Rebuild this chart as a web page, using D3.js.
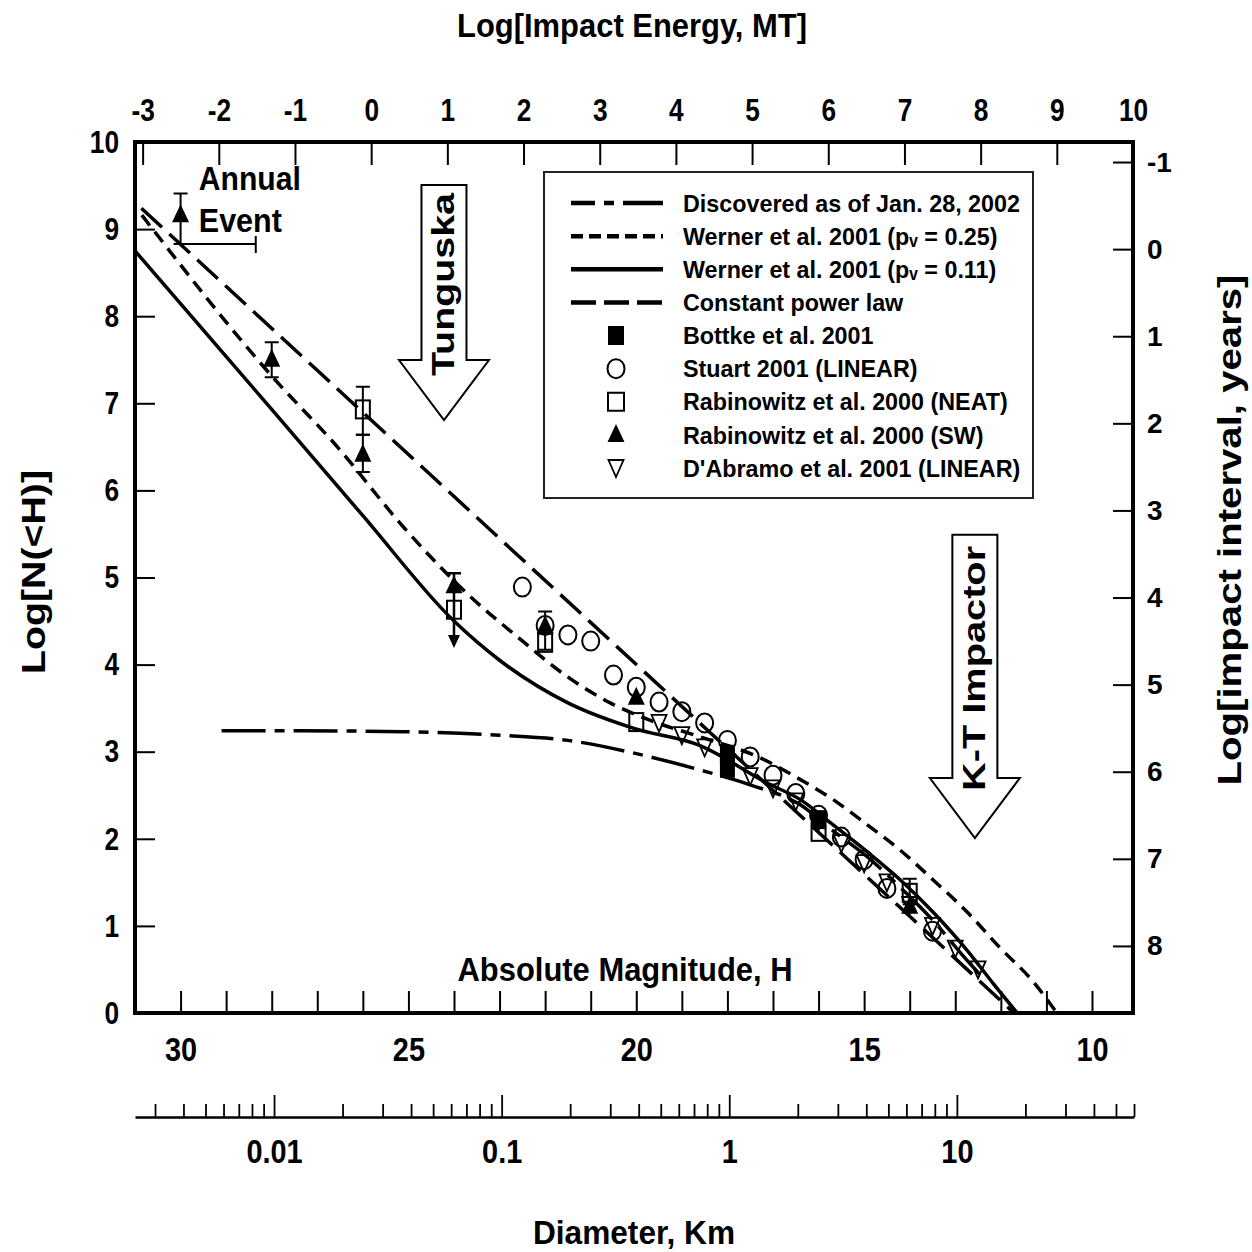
<!DOCTYPE html>
<html><head><meta charset="utf-8">
<script src="https://cdn.jsdelivr.net/npm/d3@7"></script>
<style>
html,body{margin:0;padding:0;background:#fff;}
svg{display:block;}
</style></head><body>
<svg id="chart" width="1252" height="1252"></svg>
<script>
// ---------------- DATA ----------------
const magnitudeTicks = [10,11,12,13,14,15,16,17,18,19,20,21,22,23,24,25,26,27,28,29,30,31];
const magnitudeLabels = [10,15,20,25,30];
const logNTicks = [0,1,2,3,4,5,6,7,8,9,10];
const energyTicks = [-3,-2,-1,0,1,2,3,4,5,6,7,8,9,10];
const intervalTicks = [-1,0,1,2,3,4,5,6,7,8];
const diameterTicks = [0.003,0.004,0.005,0.006,0.007,0.008,0.009,0.01,0.02,0.03,0.04,0.05,0.06,0.07,0.08,0.09,0.1,0.2,0.3,0.4,0.5,0.6,0.7,0.8,0.9,1,2,3,4,5,6,7,8,9,10,20,30,40,50,60];
const diameterLabels = [0.01,0.1,1,10];

// curves: [H, log N(<H)]
const discoveredCurve = [[29.1,3.24],[27.4,3.24],[25.1,3.23],[23.0,3.19],[21.5,3.13],[20.1,2.99],[18.6,2.79],[17.5,2.62],[16.4,2.39],[15.7,2.10],[14.9,1.78],[14.2,1.44],[13.5,1.07],[12.9,0.70],[12.35,0.38]];
const werner025Curve = [[30.85,9.16],[27.96,7.29],[26.56,6.50],[25.11,5.58],[23.64,4.78],[22.61,4.32],[21.51,3.86],[20.57,3.56],[19.69,3.36],[18.6,3.17],[17.28,2.93],[16.4,2.68],[15.68,2.45],[14.93,2.16],[14.21,1.87],[13.49,1.53],[12.74,1.16],[12.02,0.75],[11.29,0.36],[10.77,0]];
const werner011Curve = [[31.0,8.75],[28.0,6.93],[26.0,5.71],[24.0,4.5],[23.0,4.05],[21.5,3.56],[20.07,3.27],[18.6,3.07],[17.13,2.64],[16.4,2.45],[15.68,2.16],[14.93,1.85],[14.21,1.53],[13.49,1.16],[12.74,0.72],[12.17,0.34],[11.64,0]];
const powerLawCurve = [[30.86,9.24],[26.9,7.33],[22.3,5.11],[18.4,3.23],[14.0,1.11],[11.71,0]];

// data points: [H, log N]
const bottkePoints = [[18,2.97],[18,2.81],[16,2.22]];
const stuartPoints = [[22.5,4.89],[22,4.45],[21.5,4.34],[21,4.27],[20.5,3.88],[20,3.74],[19.5,3.57],[19,3.46],[18.5,3.33],[18,3.13],[17.5,2.94],[17,2.73],[16.5,2.52],[16,2.27],[15.5,2.02],[15,1.76],[14.5,1.43],[13.5,0.94]];
const neatPoints = [[26,6.93],[24,4.63],[22,4.25],[20,3.34],[16,2.08],[14,1.38]];
const swPoints = [[30,9.16],[28,7.5],[26,6.41],[24,4.9],[22,4.44],[20,3.62],[14,1.22]];
const dAbramoPoints = [[19.5,3.33],[19,3.19],[18.5,3.05],[18,2.88],[17.5,2.72],[17,2.58],[16.5,2.43],[16,2.2],[15.5,1.95],[15,1.72],[14.5,1.5],[14,1.24],[13.5,1.0],[13,0.74],[12.5,0.5]];

// error bars: [H, low, high]
const errorBars = [[30,8.83,9.41],[28,7.30,7.70],[26,6.21,6.64],[26,6.64,7.19],[22,4.17,4.61],[14,1.25,1.54]];
const upperLimits = [[24,5.05,4.19]];           // [H, cap, arrow tip]
const magnitudeRangeBars = [[30,28.35,8.83]];   // [H from, H to, logN]

// annotations
const arrowLabels = ["Tunguska","K-T Impactor"];
const arrowH = [24.22,12.57];
const arrowTopL = [9.506,5.49];
const arrowBaseL = [7.497,2.698];
const arrowTipL = [6.808,2.009];

const legendLabels = ["Discovered as of Jan. 28, 2002","Werner et al. 2001 (p\u1D65 = 0.25)","Werner et al. 2001 (p\u1D65 = 0.11)","Constant power law","Bottke et al. 2001","Stuart 2001 (LINEAR)","Rabinowitz et al. 2000 (NEAT)","Rabinowitz et al. 2000 (SW)","D'Abramo et al. 2001 (LINEAR)"];

// ---------------- CHART ----------------
const FONT = '"Liberation Sans", Arial, Helvetica, "DejaVu Sans", sans-serif';
const svg = d3.select("#chart").attr("font-family", FONT);
svg.append("rect").attr("width",1252).attr("height",1252).attr("fill","#fff");

const x = d3.scaleLinear().domain([31, 9.1]).range([135, 1133]);
const y = d3.scaleLinear().domain([0, 10]).range([1013, 142]);
const xE = d3.scaleLinear().domain([-3.1, 10]).range([135, 1133]);
const yR = d3.scaleLinear().domain([8.77, -1.23]).range([1013, 142]);
const xD = d3.scaleLog().domain([0.00245, 60]).range([135, 1134]);

function squeeze(sel, f){
  sel.each(function(){
    const L = this.getComputedTextLength();
    if (L > 0){ this.setAttribute("textLength", L*f); this.setAttribute("lengthAdjust","spacingAndGlyphs"); }
  });
}
function styleAxis(g, size, weight){
  g.attr("font-family", FONT).attr("font-size", size).attr("font-weight", weight);
  g.select(".domain").remove();
  g.selectAll(".tick line").attr("stroke","#000").attr("stroke-width",2);
  g.selectAll(".tick text").attr("fill","#000");
}
const plain = d => String(d);

// bottom (absolute magnitude)
const gB = svg.append("g").attr("transform","translate(0,1013)")
  .call(d3.axisBottom(x).tickValues(magnitudeTicks).tickSizeInner(-22).tickSizeOuter(0).tickPadding(24)
    .tickFormat(d => magnitudeLabels.includes(d) ? String(d) : ""));
styleAxis(gB, 34, "bold"); squeeze(gB.selectAll(".tick text"), 0.85);

// left
const gL = svg.append("g").attr("transform","translate(135,0)")
  .call(d3.axisLeft(y).tickValues(logNTicks).tickSizeInner(-20).tickSizeOuter(0).tickPadding(16).tickFormat(plain));
styleAxis(gL, 32, "bold"); squeeze(gL.selectAll(".tick text"), 0.82);

// top (energy)
const gT = svg.append("g").attr("transform","translate(0,142)")
  .call(d3.axisTop(xE).tickValues(energyTicks).tickSizeInner(-23).tickSizeOuter(0).tickPadding(21).tickFormat(plain));
styleAxis(gT, 32, "bold"); squeeze(gT.selectAll(".tick text"), 0.82);

// right (interval)
const gR = svg.append("g").attr("transform","translate(1133,0)")
  .call(d3.axisRight(yR).tickValues(intervalTicks).tickSizeInner(-20).tickSizeOuter(0).tickPadding(14).tickFormat(plain));
styleAxis(gR, 28, "bold");

// diameter axis
const gD = svg.append("g").attr("transform","translate(0,1117)")
  .call(d3.axisBottom(xD).tickValues(diameterTicks).tickSizeInner(-13).tickSizeOuter(0).tickPadding(22)
    .tickFormat(d => diameterLabels.includes(d) ? String(d) : ""));
gD.attr("font-family", FONT).attr("font-size", 34).attr("font-weight","bold");
gD.select(".domain").attr("stroke","#000").attr("stroke-width",2.5);
gD.selectAll(".tick line").attr("stroke","#000").attr("stroke-width",1.8).attr("y2", d => diameterLabels.includes(d) ? -22 : -13);
gD.selectAll(".tick text").attr("fill","#000");
squeeze(gD.selectAll(".tick text"), 0.85);

// frame
svg.append("rect").attr("x",135).attr("y",142).attr("width",998).attr("height",871)
  .attr("fill","none").attr("stroke","#000").attr("stroke-width",4);

// axis titles
function title(txt, xx, yy, size, len, rot){
  const t = svg.append("text").attr("font-size",size).attr("font-weight","bold").attr("text-anchor","middle")
    .attr("fill","#000").text(txt);
  if (rot) t.attr("transform",`translate(${xx},${yy}) rotate(-90)`);
  else t.attr("x",xx).attr("y",yy);
  t.attr("textLength",len).attr("lengthAdjust","spacingAndGlyphs");
  return t;
}
title("Log[Impact Energy, MT]", 632, 37, 33, 350, false);
title("Absolute Magnitude, H", 625, 981, 34, 335, false);
title("Diameter, Km", 634, 1244, 33, 202, false);
title("Log[N(<H)]", 45, 572, 33, 204, true);
title("Log[impact interval, years]", 1241, 530, 33, 511, true);

// annual event text
svg.append("text").attr("x", x(29.6)).attr("y", y(9.449)).attr("font-size",34).attr("font-weight","bold")
  .attr("textLength",102).attr("lengthAdjust","spacingAndGlyphs").text("Annual");
svg.append("text").attr("x", x(29.6)).attr("y", y(8.967)).attr("font-size",34).attr("font-weight","bold")
  .attr("textLength",83).attr("lengthAdjust","spacingAndGlyphs").text("Event");

// arrows
const arrowLen = [183, 245];
arrowLabels.forEach((lab,i) => {
  const cx = x(arrowH[i]), yt = y(arrowTopL[i]), yb = y(arrowBaseL[i]), yp = y(arrowTipL[i]);
  const sw = 22.5, hw = 45;
  svg.append("path").attr("d", `M${cx-sw},${yt}H${cx+sw}V${yb}H${cx+hw}L${cx},${yp}L${cx-hw},${yb}H${cx-sw}Z`)
    .attr("fill","#fff").attr("stroke","#000").attr("stroke-width",2);
  svg.append("text").attr("transform",`translate(${cx+10},${(yt+yb)/2+12}) rotate(-90)`)
    .attr("text-anchor","middle").attr("font-size",32).attr("font-weight","bold")
    .attr("textLength",arrowLen[i]).attr("lengthAdjust","spacingAndGlyphs").text(lab);
});

// curves
const line = d3.line().x(d => x(d[0])).y(d => y(d[1])).curve(d3.curveMonotoneX);
const curveStyles = [
  {data: discoveredCurve, dash: "44,9,10,9"},
  {data: werner025Curve, dash: "13,8"},
  {data: werner011Curve, dash: null},
  {data: powerLawCurve, dash: "28,10"}
];
const gC = svg.append("g");
curveStyles.forEach(c => {
  const p = gC.append("path").attr("d", line(c.data)).attr("fill","none").attr("stroke","#000").attr("stroke-width",3.5);
  if (c.dash) p.attr("stroke-dasharray", c.dash);
});

// markers
const triUp = "M0,-11L8.5,7L-8.5,7Z";
const triDown = "M-7.5,-8L7.5,-8L0,9Z";
const gM = svg.append("g");
gM.selectAll(".eb").data(errorBars).join("path").attr("class","eb")
  .attr("d", d => { const cx=x(d[0]), a=y(d[1]), b=y(d[2]); return `M${cx},${a}V${b}M${cx-7},${a}h14M${cx-7},${b}h14`; })
  .attr("stroke","#000").attr("stroke-width",2).attr("fill","none");
gM.selectAll(".ul").data(upperLimits).join("path").attr("class","ul")
  .attr("d", d => { const cx=x(d[0]), a=y(d[1]), b=y(d[2]); return `M${cx},${a}V${b-10}M${cx-7},${a}h14`; })
  .attr("stroke","#000").attr("stroke-width",2.5).attr("fill","none");
gM.selectAll(".ulh").data(upperLimits).join("path").attr("class","ulh")
  .attr("d", d => { const cx=x(d[0]), b=y(d[2]); return `M${cx-6},${b-13}L${cx+6},${b-13}L${cx},${b}Z`; })
  .attr("fill","#000");
gM.selectAll(".hb").data(magnitudeRangeBars).join("path").attr("class","hb")
  .attr("d", d => { const a=x(d[0]), b=x(d[1]), yy=y(d[2]); return `M${a},${yy}H${b}M${b},${yy-8}v17`; })
  .attr("stroke","#000").attr("stroke-width",2).attr("fill","none");

gM.selectAll(".st").data(stuartPoints).join("ellipse").attr("class","st")
  .attr("cx", d => x(d[0])).attr("cy", d => y(d[1])).attr("rx",8.5).attr("ry",9.5)
  .attr("fill","none").attr("stroke","#000").attr("stroke-width",2);
gM.selectAll(".da").data(dAbramoPoints).join("path").attr("class","da")
  .attr("transform", d => `translate(${x(d[0])},${y(d[1])})`).attr("d", triDown)
  .attr("fill","none").attr("stroke","#000").attr("stroke-width",1.8);
gM.selectAll(".ne").data(neatPoints).join("rect").attr("class","ne")
  .attr("x", d => x(d[0])-7).attr("y", d => y(d[1])-9).attr("width",14).attr("height",18)
  .attr("fill","none").attr("stroke","#000").attr("stroke-width",2);
gM.selectAll(".bo").data(bottkePoints).join("rect").attr("class","bo")
  .attr("x", d => x(d[0])-7.5).attr("y", d => y(d[1])-9.5).attr("width",15).attr("height",19)
  .attr("fill","#000");
gM.selectAll(".sw").data(swPoints).join("path").attr("class","sw")
  .attr("transform", d => `translate(${x(d[0])},${y(d[1])})`).attr("d", triUp).attr("fill","#000");

// legend
const gLeg = svg.append("g");
gLeg.append("rect").attr("x",544).attr("y",172).attr("width",489).attr("height",326)
  .attr("fill","#fff").attr("stroke","#222").attr("stroke-width",2);
const legY = d3.scaleLinear().domain([0,8]).range([203,468]);
const legLine = [
  {dash:"44,9,10,9", off:20},{dash:"12,6", off:0},{dash:null, off:0},{dash:"25,8", off:0}
];
legLine.forEach((s,i) => {
  const p = gLeg.append("line").attr("x1",571).attr("x2",663).attr("y1",legY(i)).attr("y2",legY(i))
    .attr("stroke","#000").attr("stroke-width",4.5);
  if (s.dash) p.attr("stroke-dasharray", s.dash).attr("stroke-dashoffset", s.off);
});
gLeg.append("rect").attr("x",608).attr("y",legY(4)-9.5).attr("width",16).attr("height",19).attr("fill","#000");
gLeg.append("ellipse").attr("cx",616).attr("cy",legY(5)).attr("rx",8.5).attr("ry",9.5).attr("fill","none").attr("stroke","#000").attr("stroke-width",2);
gLeg.append("rect").attr("x",608).attr("y",legY(6)-9).attr("width",16).attr("height",18).attr("fill","none").attr("stroke","#000").attr("stroke-width",2);
gLeg.append("path").attr("transform",`translate(616,${legY(7)})`).attr("d",triUp).attr("fill","#000");
gLeg.append("path").attr("transform",`translate(616,${legY(8)})`).attr("d",triDown).attr("fill","none").attr("stroke","#000").attr("stroke-width",1.8);

const legTexts = legendLabels.map((lab,i) =>
  gLeg.append("text").attr("x",683).attr("y",legY(i)).attr("dy","0.36em")
    .attr("font-size",24).attr("font-weight","bold").attr("fill","#000").text(lab));
const legF = 337 / legTexts[0].node().getComputedTextLength();
legTexts.forEach(t => {
  const L = t.node().getComputedTextLength();
  t.attr("textLength", L*legF).attr("lengthAdjust","spacingAndGlyphs");
});
</script>
</body></html>
